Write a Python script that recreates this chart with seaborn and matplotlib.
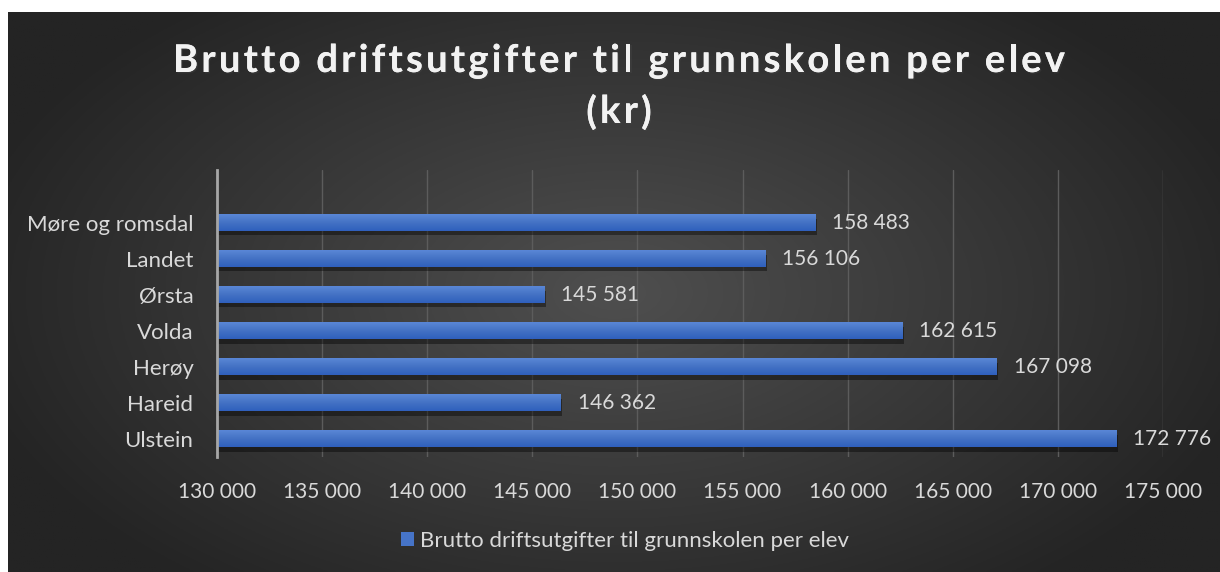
import numpy as np
import pandas as pd
import matplotlib
matplotlib.use('Agg')
import matplotlib.pyplot as plt
from matplotlib.ticker import FuncFormatter
from matplotlib.patches import Patch
from matplotlib.font_manager import FontProperties
from matplotlib.textpath import TextToPath
from matplotlib.colors import LinearSegmentedColormap
import matplotlib.patheffects as pe
import seaborn as sns

kommuner = ["Møre og romsdal", "Landet", "Ørsta", "Volda", "Herøy", "Hareid", "Ulstein"]
utgifter = [158483, 156106, 145581, 162615, 167098, 146362, 172776]
serie = "Brutto driftsutgifter til grunnskolen per elev"
tittel = ["Brutto driftsutgifter til grunnskolen per elev", "(kr)"]
xmin, xmax = 130000, 175000

df = pd.DataFrame({"kommune": kommuner, "kr": utgifter})

sns.set_theme(style="dark")
plt.rcParams['font.family'] = ['Lato', 'DejaVu Sans']

def tall(v, pos=None):
    return f"{int(round(v)):,}".replace(",", " ")

W, H = 1220, 572
fig = plt.figure(figsize=(W / 100, H / 100), dpi=100)
fig.patch.set_facecolor("white")

# dark radial background panel
bg = fig.add_axes([8 / W, 0, 1 - 8 / W, (H - 12) / H])
yy, xx = np.mgrid[0:300, 0:600]
r = np.sqrt(((xx - 300) / 330) ** 2 + ((yy - 150) / 200) ** 2)
r = np.clip(r, 0, 1)
c0 = np.array([0x4f, 0x4f, 0x4f]) / 255
c1 = np.array([0x24, 0x24, 0x24]) / 255
img = c0[None, None, :] * (1 - r[..., None]) + c1[None, None, :] * r[..., None]
bg.imshow(img, aspect="auto", extent=[0, 1, 0, 1])
bg.set_axis_off()

ax = fig.add_axes([217 / W, 1 - 457 / H, (1163 - 217) / W, (457 - 170) / H])
ax.set_facecolor("none")
sns.barplot(data=df, y="kommune", x="kr", color="#4674c8", width=0.465,
            saturation=1, ax=ax, zorder=3, linewidth=0, edgecolor="none")

# blue vertical gradient on each bar + soft shadow
blaa = LinearSegmentedColormap.from_list("blaa", ["#5a87d6", "#4472c4", "#2f60bd"])
grad = np.linspace(0, 1, 64).reshape(-1, 1)
for bar in ax.patches:
    bar.set_path_effects([pe.withSimplePatchShadow(offset=(1, -3), shadow_rgbFace="black", alpha=0.4),
                          pe.Normal()])
    y, h = bar.get_y(), bar.get_height()
    ax.imshow(grad, cmap=blaa, aspect="auto", extent=[xmin, bar.get_x() + bar.get_width(), y + h, y],
              zorder=4, interpolation="bilinear")

ax.set_xlim(xmin, xmax)
ax.set_ylim(6.5, -1.47)
ax.set_xticks(np.arange(xmin, xmax + 1, 5000))
ax.xaxis.set_major_formatter(FuncFormatter(tall))
ax.grid(axis="x", color="#5c5c5c", linewidth=1)
ax.grid(axis="y", visible=False)
ax.set_xlabel("")
ax.set_ylabel("")
for s in ["top", "right", "bottom"]:
    ax.spines[s].set_visible(False)
ax.spines["left"].set_color("#a6a6a6")
ax.spines["left"].set_linewidth(2)
ax.spines["left"].set_zorder(5)
ax.tick_params(axis="y", length=0, pad=17, labelsize=16, labelcolor="#d9d9d9")
ax.tick_params(axis="x", length=0, pad=18, labelsize=15, labelcolor="#d9d9d9")

ax.bar_label(ax.containers[0], labels=[tall(v) for v in utgifter], padding=12,
             fontsize=15, color="#d9d9d9")

# title with letter spacing, drawn char by char
tfont = FontProperties(family="Lato", weight="bold", size=27.5)
ttp = TextToPath()
def bredde(s):
    w = ttp.get_text_width_height_descent(s + "x", tfont, ismath=False)[0]
    return w - ttp.get_text_width_height_descent("x", tfont, ismath=False)[0]

linje1 = tittel[0]
sperring = (892 - bredde(linje1) * 100 / 72) / (len(linje1) - 1)
for linje, yc in zip(tittel, [61, 112]):
    n = len(linje)
    total = bredde(linje) * 100 / 72 + sperring * (n - 1)
    x0 = 619 - total / 2
    for i, ch in enumerate(linje):
        if ch == " ":
            continue
        xp = x0 + bredde(linje[:i]) * 100 / 72 + sperring * i
        fig.text(xp / W, 1 - yc / H, ch, ha="left", va="center", fontproperties=tfont,
                 color="#f2f2f2",
                 path_effects=[pe.withSimplePatchShadow(offset=(1, -1), alpha=0.35), pe.Normal()])

fig.legend(handles=[Patch(facecolor="#4674c8", edgecolor="none", label=serie)], loc="center",
           bbox_to_anchor=(625 / W, 1 - 541 / H), frameon=False, fontsize=16,
           labelcolor="#d9d9d9", handlelength=0.6, handleheight=0.6, handletextpad=0.3)

fig.savefig("out.png", dpi=100)
